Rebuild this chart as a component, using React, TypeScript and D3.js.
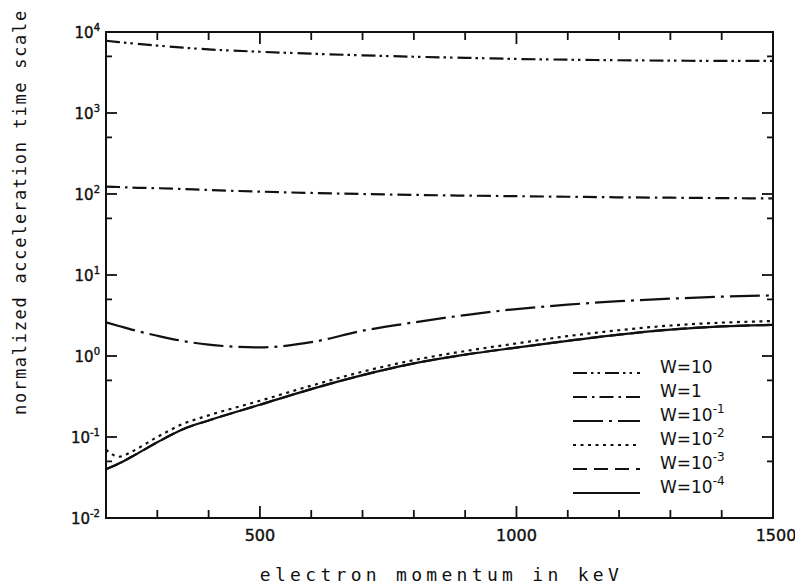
import React, { useEffect, useRef } from "react";
import * as d3 from "d3";

// electron momentum (keV)
const momentum = [200, 225, 250, 300, 350, 400, 500, 600, 700, 800, 900, 1000, 1100, 1200, 1300, 1400, 1500];

// normalized acceleration time scale for each W
const w10 = [7800, 7500, 7250, 6800, 6400, 6100, 5700, 5400, 5150, 4950, 4800, 4650, 4550, 4480, 4430, 4400, 4400];
const w1 = [123, 122, 120, 118, 115, 112, 107, 103, 100, 97.5, 95.5, 94, 92.5, 91, 90, 89, 88];
const w1m = [2.6, 2.35, 2.12, 1.78, 1.53, 1.38, 1.28, 1.48, 2.05, 2.6, 3.2, 3.8, 4.3, 4.75, 5.1, 5.4, 5.6];
const w2m = [0.07, 0.057, 0.066, 0.1, 0.145, 0.185, 0.28, 0.43, 0.64, 0.89, 1.15, 1.43, 1.76, 2.08, 2.38, 2.58, 2.7];
const w3m = [0.04, 0.047, 0.057, 0.086, 0.125, 0.16, 0.25, 0.39, 0.58, 0.81, 1.04, 1.27, 1.54, 1.84, 2.12, 2.32, 2.42];
const w4m = [0.04, 0.047, 0.057, 0.086, 0.125, 0.16, 0.25, 0.39, 0.58, 0.81, 1.04, 1.27, 1.54, 1.84, 2.12, 2.32, 2.42];

const seriesNames = ["10", "1", "-1", "-2", "-3", "-4"];
const seriesValues = [w10, w1, w1m, w2m, w3m, w4m];
const dashes = ["14,4,2.5,4,2.5,5", "14,5,2.5,5", "30,6,3,6", "3,4.5", "14,7", null];

const xTicks = [300, 400, 500, 600, 700, 800, 900, 1000, 1100, 1200, 1300, 1400];
const xLabels = [500, 1000, 1500];
const yDecades = [-2, -1, 0, 1, 2, 3, 4];

export default function App() {
  const ref = useRef(null);

  useEffect(() => {
    const width = 795;
    const height = 585;
    const m = { left: 106, right: 773, top: 32, bottom: 518 };

    const svg = d3
      .select(ref.current)
      .append("svg")
      .attr("width", width)
      .attr("height", height)
      .style("position", "absolute")
      .style("left", 0)
      .style("top", 0)
      .style("background", "#fff");

    const x = d3.scaleLinear().domain([200, 1500]).range([m.left, m.right]);
    const y = d3.scaleLog().domain([1e-2, 1e4]).range([m.bottom, m.top]);

    const ink = "#111";

    // frame
    svg
      .append("rect")
      .attr("x", m.left)
      .attr("y", m.top)
      .attr("width", m.right - m.left)
      .attr("height", m.bottom - m.top)
      .attr("fill", "none")
      .attr("stroke", ink)
      .attr("stroke-width", 2);

    // x ticks, bottom and top, pointing in
    xTicks.forEach((v) => {
      const len = v % 500 === 0 ? 12 : 8;
      svg.append("line").attr("x1", x(v)).attr("x2", x(v))
        .attr("y1", m.bottom).attr("y2", m.bottom - len)
        .attr("stroke", ink).attr("stroke-width", 1.8);
      svg.append("line").attr("x1", x(v)).attr("x2", x(v))
        .attr("y1", m.top).attr("y2", m.top + len)
        .attr("stroke", ink).attr("stroke-width", 1.8);
    });

    // y ticks: decades and 5x
    yDecades.forEach((d) => {
      const vals = [Math.pow(10, d)];
      if (d < 4) vals.push(5 * Math.pow(10, d));
      vals.forEach((v, i) => {
        const len = i === 0 ? 11 : 6;
        svg.append("line").attr("x1", m.right).attr("x2", m.right - len)
          .attr("y1", y(v)).attr("y2", y(v))
          .attr("stroke", ink).attr("stroke-width", 1.8);
        svg.append("line").attr("x1", m.left).attr("x2", m.left + len)
          .attr("y1", y(v)).attr("y2", y(v))
          .attr("stroke", ink).attr("stroke-width", 1.8);
      });
    });

    // x labels
    svg
      .selectAll(".xl")
      .data(xLabels)
      .enter()
      .append("text")
      .attr("x", (d) => x(d) + (d === 1500 ? 3 : 0))
      .attr("y", m.bottom + 23)
      .attr("text-anchor", "middle")
      .attr("font-family", "DejaVu Sans")
      .attr("font-size", 16)
      .attr("fill", ink)
      .attr("stroke", ink)
      .attr("stroke-width", 0.4)
      .text((d) => d);

    // y labels 10^n
    yDecades.forEach((d) => {
      const t = svg
        .append("text")
        .attr("x", m.left - 6)
        .attr("y", y(Math.pow(10, d)) + 6)
        .attr("text-anchor", "end")
        .attr("font-family", "DejaVu Sans")
        .attr("font-size", 15)
        .attr("fill", ink)
        .attr("stroke", ink)
        .attr("stroke-width", 0.4);
      t.append("tspan").text("10");
      t.append("tspan").attr("dy", -7).attr("font-size", 10).text(d);
    });

    // axis titles
    svg
      .append("text")
      .attr("x", (m.left + m.right) / 2 + 2)
      .attr("y", 581)
      .attr("text-anchor", "middle")
      .attr("font-family", "DejaVu Sans Mono")
      .attr("font-size", 18)
      .attr("letter-spacing", 4.3)
      .attr("fill", ink)
      .text("electron momentum in keV");

    svg
      .append("text")
      .attr("transform", "translate(26, 212) rotate(-90)")
      .attr("text-anchor", "middle")
      .attr("font-family", "DejaVu Sans Mono")
      .attr("font-size", 17)
      .attr("letter-spacing", 1.7)
      .attr("fill", ink)
      .text("normalized acceleration time scale");

    // curves
    const line = d3
      .line()
      .x((d) => x(d[0]))
      .y((d) => y(d[1]))
      .curve(d3.curveMonotoneX);

    seriesValues.forEach((vals, i) => {
      const pts = momentum.map((mo, j) => [mo, vals[j]]);
      const p = svg
        .append("path")
        .attr("d", line(pts))
        .attr("fill", "none")
        .attr("stroke", ink)
        .attr("stroke-width", 2.2);
      if (dashes[i]) p.attr("stroke-dasharray", dashes[i]);
    });

    // legend
    const lx0 = 573;
    const lx1 = 640;
    const rows = [367, 391, 415, 439, 463, 487];
    seriesNames.forEach((nm, i) => {
      const ly = rows[i];
      const l = svg
        .append("line")
        .attr("x1", lx0)
        .attr("x2", lx1)
        .attr("y1", ly + 6)
        .attr("y2", ly + 6)
        .attr("stroke", ink)
        .attr("stroke-width", 1.8);
      if (dashes[i]) l.attr("stroke-dasharray", dashes[i]);
      const t = svg
        .append("text")
        .attr("x", 660)
        .attr("y", ly + 6)
        .attr("font-family", "DejaVu Sans")
        .attr("font-size", 17)
        .attr("fill", ink);
      if (nm.startsWith("-")) {
        t.append("tspan").text("W=10");
        t.append("tspan").attr("dy", -8).attr("font-size", 12).text(nm);
      } else {
        t.text("W=" + nm);
      }
    });

    return () => {
      d3.select(ref.current).selectAll("*").remove();
    };
  }, []);

  return <div ref={ref} style={{ width: 795, height: 585 }} />;
}
